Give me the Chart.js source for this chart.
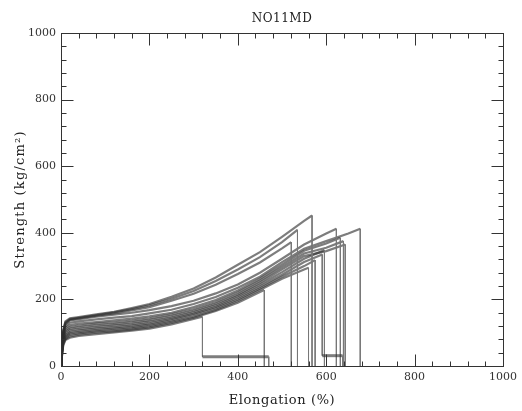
<!DOCTYPE html>
<html>
<head>
<meta charset="utf-8">
<script src="https://cdn.jsdelivr.net/npm/chart.js@4/dist/chart.umd.min.js"></script>
<style>
  body { margin: 0; background: #fff; }
  canvas { display: block; }
</style>
</head>
<body>
<canvas id="tensile" width="522" height="411"></canvas>
<script>
// elongation grid (%) shared by every specimen
const elongGrid = [0, 2, 5, 10, 20, 40, 80, 120, 160, 200, 250, 300, 350, 400, 450, 500, 550, 600, 650];

// strength (kg/cm2) read on the grid, one array per specimen, up to the break
const specA = [0, 28, 62, 78, 85, 90, 96, 101, 106, 112, 125, 141];
const specB = [0, 30, 65, 81, 89, 94, 100, 104, 109, 116, 129, 145, 165, 190, 222];
const specC = [0, 52, 100, 128, 139, 143, 151, 158, 167, 177, 196, 217, 244, 276, 311, 353];
const specD = [0, 55, 104, 131, 141, 145, 153, 161, 171, 182, 202, 225, 255, 290, 327, 372];
const specE = [0, 32, 68, 84, 94, 98, 104, 108, 113, 120, 133, 148, 168, 195, 228, 262, 290];
const specF = [0, 58, 108, 134, 143, 147, 155, 163, 174, 186, 208, 233, 266, 304, 342, 388, 436];
const specG = [0, 35, 72, 88, 98, 102, 108, 112, 117, 124, 137, 153, 173, 200, 233, 268, 300];
const specH = [0, 38, 75, 92, 102, 106, 112, 116, 121, 128, 141, 157, 177, 205, 238, 274, 312];
const specI = [0, 41, 79, 97, 107, 111, 117, 121, 126, 133, 145, 161, 182, 210, 244, 282, 322];
const specJ = [0, 56, 100, 126, 137, 141, 148, 154, 160, 168, 180, 196, 218, 245, 280, 322, 365, 398];
const specK = [0, 50, 92, 114, 123, 127, 132, 137, 142, 149, 160, 177, 198, 227, 262, 304, 346, 368];
const specL = [0, 47, 87, 108, 117, 121, 127, 131, 136, 143, 155, 171, 192, 221, 256, 297, 338, 355];
const specM = [0, 44, 83, 103, 112, 116, 122, 126, 131, 138, 150, 166, 187, 215, 250, 290, 330, 345];
const specN = [0, 53, 96, 120, 130, 134, 140, 145, 150, 158, 169, 186, 207, 235, 268, 312, 352, 375, 398];

const specimens = [specA, specB, specC, specD, specE, specF, specG, specH, specI, specJ, specK, specL, specM, specN];

// break point of each specimen: elongation and strength just before the drop
const breakElong    = [320, 460, 521, 535, 560, 568, 575, 591, 596, 623, 632, 639, 643, 677];
const breakStrength = [148, 228, 372, 409, 295, 452, 318, 335, 348, 412, 385, 375, 365, 412];

// partial breaks: strength that remains after the drop and where it finally lets go
const residualStrength = [28, 0, 0, 0, 0, 0, 0, 31, 0, 0, 0, 0, 0, 0];
const residualEnd      = [470, 0, 0, 0, 0, 0, 0, 637, 0, 0, 0, 0, 0, 0];

const majorTicks = [0, 200, 400, 600, 800, 1000];
const minorStep = 40;

const chartTitle = 'NO11MD';
const xTitle = 'Elongation (%)';
const yTitle = 'Strength (kg/cm²)';

function buildCurve(vals, i) {
  const pts = vals.map((y, k) => ({ x: elongGrid[k], y: y }));
  pts.push({ x: breakElong[i], y: breakStrength[i] });
  if (residualStrength[i] > 0) {
    pts.push({ x: breakElong[i], y: residualStrength[i] });
    pts.push({ x: residualEnd[i], y: residualStrength[i] });
    pts.push({ x: residualEnd[i], y: 0 });
  } else {
    pts.push({ x: breakElong[i], y: 0 });
  }
  return pts;
}

const serif = 'DejaVu Serif';

// box round the plot with inward ticks on all four sides, plus the titles
const frameTicks = {
  id: 'frameTicks',
  afterDatasetsDraw(chart) {
    const { ctx, chartArea: a, scales: { x, y } } = chart;
    ctx.save();
    ctx.strokeStyle = '#333';
    ctx.lineWidth = 1;
    const L = Math.round(a.left) + 0.5, R = Math.round(a.right) + 0.5;
    const T = Math.round(a.top) + 0.5, B = Math.round(a.bottom) + 0.5;
    ctx.strokeRect(L, T, R - L, B - T);
    ctx.beginPath();
    for (let v = 0; v <= 1000; v += minorStep) {
      const len = majorTicks.includes(v) ? 12 : 5;
      const px = Math.round(x.getPixelForValue(v)) + 0.5;
      ctx.moveTo(px, B); ctx.lineTo(px, B - len);
      ctx.moveTo(px, T); ctx.lineTo(px, T + len);
      const py = Math.round(y.getPixelForValue(v)) + 0.5;
      ctx.moveTo(L, py); ctx.lineTo(L + len, py);
      ctx.moveTo(R, py); ctx.lineTo(R - len, py);
    }
    ctx.stroke();

    const cx = (a.left + a.right) / 2;
    const cy = (a.top + a.bottom) / 2;
    ctx.fillStyle = '#222';
    ctx.textAlign = 'center';
    ctx.textBaseline = 'middle';
    ctx.font = '12px "' + serif + '"';
    ctx.letterSpacing = '0.5px';
    ctx.fillText(chartTitle, cx, 19);
    ctx.font = '13px "' + serif + '"';
    ctx.letterSpacing = '0.6px';
    ctx.fillText(xTitle, cx, 401);
    ctx.translate(21, cy);
    ctx.rotate(-Math.PI / 2);
    ctx.letterSpacing = '1.2px';
    ctx.fillText(yTitle, 0, 0);
    ctx.restore();
  }
};

new Chart(document.getElementById('tensile'), {
  type: 'line',
  data: {
    datasets: specimens.map((vals, i) => ({
      data: buildCurve(vals, i),
      borderColor: 'rgba(45,45,45,0.62)',
      borderWidth: 2.2,
      pointRadius: 0,
      tension: 0,
      fill: false,
      segment: {
        // drops at the break are thin and faint, the low residual plateau heavier
        borderColor: c => c.p0.parsed.x === c.p1.parsed.x ? '#777' : undefined,
        borderWidth: c => c.p0.parsed.x === c.p1.parsed.x ? 1 :
          (c.p0.parsed.y === c.p1.parsed.y && c.p0.parsed.y < 50 && c.p0.parsed.y > 0) ? 3 : undefined
      }
    }))
  },
  options: {
    responsive: false,
    animation: false,
    layout: { padding: { top: 33, right: 18, bottom: 0, left: 0 } },
    plugins: {
      legend: { display: false },
      tooltip: { enabled: false },
      title: { display: false }
    },
    scales: {
      x: {
        type: 'linear',
        min: 0,
        max: 1000,
        grid: { display: false, drawTicks: false },
        border: { display: false },
        ticks: {
          stepSize: 200,
          padding: 5,
          color: '#333',
          font: { family: serif, size: 11 },
          callback: v => String(v)
        },
        afterFit: s => { s.height = 45; }
      },
      y: {
        type: 'linear',
        min: 0,
        max: 1000,
        grid: { display: false, drawTicks: false },
        border: { display: false },
        ticks: {
          stepSize: 200,
          padding: 5,
          color: '#333',
          font: { family: serif, size: 11 },
          callback: v => String(v)
        },
        afterFit: s => { s.width = 61; }
      }
    }
  },
  plugins: [frameTicks]
});
</script>
</body>
</html>
